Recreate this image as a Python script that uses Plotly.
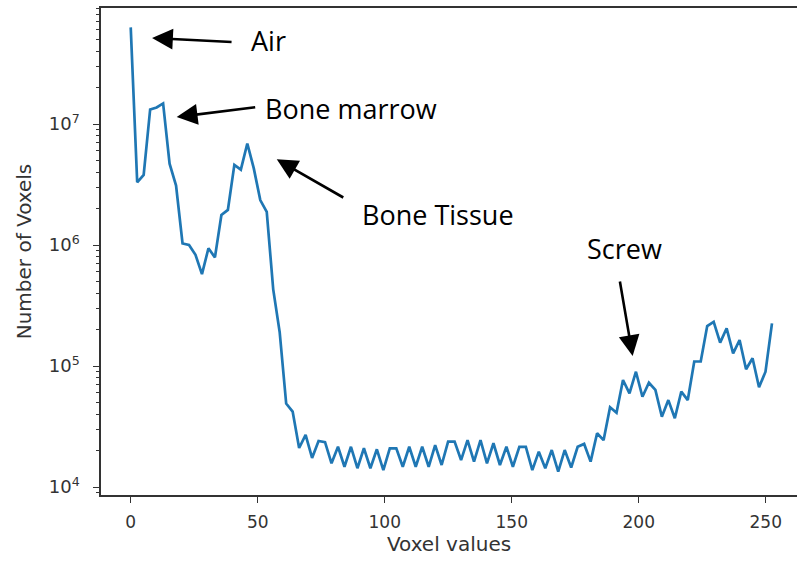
import plotly.graph_objects as go

# Histogram bin positions (voxel values, 100 bins over 0-255)
voxel_bins = [0, 2.55, 5.1, 7.65, 10.2, 12.75, 15.3, 17.85, 20.4, 22.95,
              25.5, 28.05, 30.6, 33.15, 35.7, 38.25, 40.8, 43.35, 45.9, 48.45,
              51, 53.55, 56.1, 58.65, 61.2, 63.75, 66.3, 68.85, 71.4, 73.95,
              76.5, 79.05, 81.6, 84.15, 86.7, 89.25, 91.8, 94.35, 96.9, 99.45,
              102, 104.55, 107.1, 109.65, 112.2, 114.75, 117.3, 119.85, 122.4, 124.95,
              127.5, 130.05, 132.6, 135.15, 137.7, 140.25, 142.8, 145.35, 147.9, 150.45,
              153, 155.55, 158.1, 160.65, 163.2, 165.75, 168.3, 170.85, 173.4, 175.95,
              178.5, 181.05, 183.6, 186.15, 188.7, 191.25, 193.8, 196.35, 198.9, 201.45,
              204, 206.55, 209.1, 211.65, 214.2, 216.75, 219.3, 221.85, 224.4, 226.95,
              229.5, 232.05, 234.6, 237.15, 239.7, 242.25, 244.8, 247.35, 249.9, 252.45]

# Number of voxels per bin
voxel_counts = [6.3e7, 3.3e6, 3.8e6, 1.32e7, 1.37e7, 1.48e7, 4.7e6, 3.1e6, 1.03e6, 1.0e6,
                8.3e5, 5.75e5, 9.4e5, 7.9e5, 1.77e6, 1.95e6, 4.6e6, 4.2e6, 6.9e6, 4.3e6,
                2.35e6, 1.88e6, 4.3e5, 1.9e5, 4.9e4, 4.2e4, 2.1e4, 2.7e4, 1.74e4, 2.4e4,
                2.35e4, 1.57e4, 2.15e4, 1.47e4, 2.15e4, 1.43e4, 2.09e4, 1.43e4, 2.05e4, 1.38e4,
                2.09e4, 2.09e4, 1.47e4, 2.15e4, 1.47e4, 2.15e4, 1.47e4, 2.22e4, 1.52e4, 2.37e4,
                2.37e4, 1.67e4, 2.44e4, 1.62e4, 2.44e4, 1.57e4, 2.3e4, 1.52e4, 2.15e4, 1.47e4,
                2.15e4, 2.15e4, 1.38e4, 1.96e4, 1.43e4, 2.02e4, 1.34e4, 2.02e4, 1.45e4, 2.15e4,
                2.27e4, 1.62e4, 2.78e4, 2.44e4, 4.56e4, 4.11e4, 7.66e4, 5.94e4, 8.97e4, 5.57e4,
                7.27e4, 6.34e4, 3.81e4, 5.23e4, 3.7e4, 6.14e4, 5.23e4, 1.09e5, 1.09e5, 2.14e5,
                2.32e5, 1.56e5, 2.05e5, 1.27e5, 1.64e5, 9.4e4, 1.16e5, 6.67e4, 8.97e4, 2.25e5]

x_ticks = [0, 50, 100, 150, 200, 250]
y_ticks = [1e4, 1e5, 1e6, 1e7]
y_ticktext = ["10<sup>4</sup>", "10<sup>5</sup>", "10<sup>6</sup>", "10<sup>7</sup>"]
y_minor = [m * 10 ** k for k in range(3, 8) for m in range(2, 10)]

# Labels: (text, text x, text log10 y, arrow tip x, arrow tip log10 y, tail dx px, tail dy px)
labels = [
    ("Air", 54.1, 7.694, 8.4, 7.711, 81, 4),
    ("Bone marrow", 86.7, 7.132, 18.1, 7.058, 80, -10),
    ("Bone Tissue", 121.0, 6.256, 57.5, 6.708, 68, 39),
    ("Screw", 194.2, 5.975, 197.6, 5.083, -13, -76),
]

fig = go.Figure()
fig.add_trace(go.Scatter(x=voxel_bins, y=voxel_counts, mode="lines",
                         line=dict(color="#1f77b4", width=2.7), showlegend=False))

for text, tx, ty, hx, hy, dx, dy in labels:
    fig.add_annotation(x=tx, y=ty, xref="x", yref="y", text=text, showarrow=False,
                       font=dict(family="Open Sans", size=27, color="black"),
                       xanchor="center", yanchor="middle")
    fig.add_annotation(x=hx, y=hy, xref="x", yref="y", text="", showarrow=True,
                       ax=dx, ay=dy, axref="pixel", ayref="pixel",
                       arrowhead=2, arrowsize=1.6, arrowwidth=2.6, arrowcolor="black",
                       standoff=0, startstandoff=0)

x_tick_font = dict(family="DejaVu Sans", size=17, color="#333333")
y_tick_font = dict(family="DejaVu Sans", size=18, color="#333333")
title_font = dict(family="DejaVu Sans", size=20, color="#333333")
fig.update_layout(
    width=797, height=563,
    margin=dict(l=101, r=0, t=8, b=68),
    paper_bgcolor="white", plot_bgcolor="white",
    xaxis=dict(range=[-11.7, 262.3], tickmode="array", tickvals=x_ticks,
               ticks="outside", ticklen=6, tickwidth=1.3, tickcolor="#333333",
               ticklabelstandoff=5,
               showline=True, linecolor="#333333", linewidth=1.5, mirror=True,
               showgrid=False, zeroline=False, tickfont=x_tick_font,
               title=dict(text="Voxel values", font=title_font, standoff=5)),
    yaxis=dict(type="log", range=[3.934, 7.959], tickmode="array", tickvals=y_ticks,
               ticktext=y_ticktext, ticks="outside", ticklen=6, tickwidth=1.3,
               tickcolor="#333333", showline=True, linecolor="#333333", linewidth=1.5,
               ticklabelstandoff=10,
               showgrid=False, zeroline=False, tickfont=y_tick_font,
               minor=dict(tickmode="array", tickvals=y_minor, ticks="outside",
                          ticklen=3.5, tickwidth=1, tickcolor="#333333", showgrid=False),
               title=dict(text="Number of Voxels", font=title_font, standoff=12)),
)

fig.write_html("out.html")
